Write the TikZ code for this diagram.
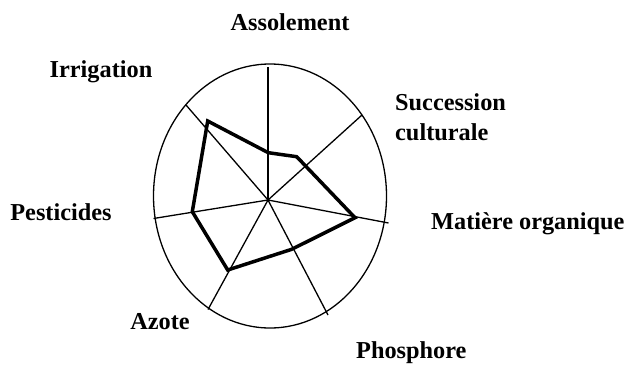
\documentclass[tikz,border=0pt]{standalone}
\usepackage{fontspec}
\setmainfont{Liberation Serif}
\begin{document}
\begin{tikzpicture}[x=1pt,y=-1pt,
  thin line/.style={line width=1.3pt},
  profile/.style={line width=3.5pt, line join=miter},
  lbl/.style={font=\fontsize{24.3}{30}\selectfont\bfseries, inner sep=0pt}]
\useasboundingbox (0,0) rectangle (632,365);
\draw[thin line] (270,196) ellipse [x radius=116.5, y radius=132];
\coordinate (c) at (268,200);
\coordinate (e1) at (268,67);
\coordinate (e2) at (362,115);
\coordinate (e3) at (388.5,223);
\coordinate (e4) at (328,315);
\coordinate (e5) at (208,309.5);
\coordinate (e6) at (153.5,218.5);
\coordinate (e7) at (186,105);
\foreach \i in {1,...,7} \draw[thin line] (c) -- (e\i);
\coordinate (p1) at (268.3,152.7);
\coordinate (p2) at (296.7,156.7);
\coordinate (p3) at (355,217.7);
\coordinate (p4) at (291.7,249.3);
\coordinate (p5) at (227.7,270);
\coordinate (p6) at (192.3,211.7);
\coordinate (p7) at (207.7,121);
\draw[profile] (p1) -- (p2) -- (p3) -- (p4) -- (p5) -- (p6) -- (p7) -- cycle;
\node[lbl] (assol) at (290,22) {Assolement};
\node[lbl] (irrig) at (101,72) {Irrigation};
\node[lbl, anchor=west, align=left] (succ) at (395,117) {Succession\\culturale};
\node[lbl, anchor=west] (mat) at (431,224) {Matière organique};
\node[lbl] (pest) at (61,212) {Pesticides};
\node[lbl] (azote) at (160,322) {Azote};
\node[lbl, anchor=west] (phos) at (356,353) {Phosphore};
\end{tikzpicture}
\end{document}
